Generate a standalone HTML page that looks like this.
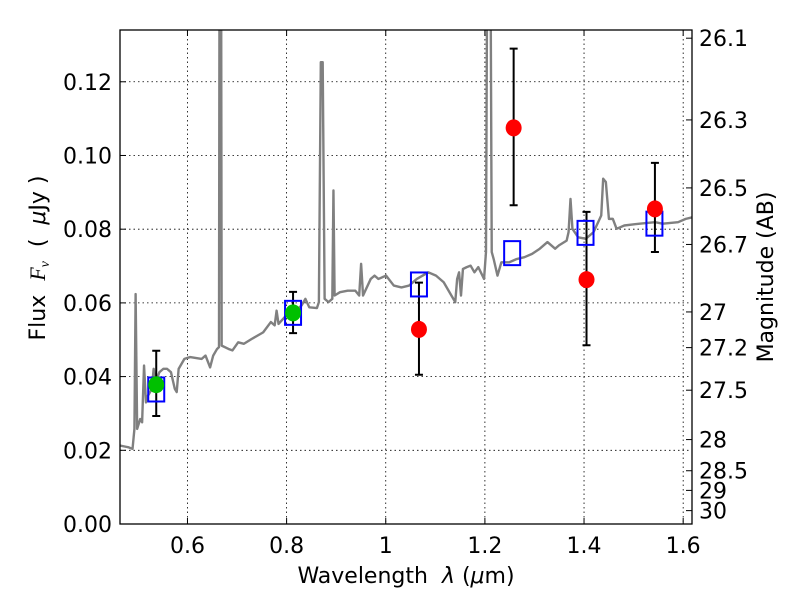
<!DOCTYPE html>
<html><head><meta charset="utf-8"><style>
html,body{margin:0;padding:0;background:#fff;}
svg text{font-family:"DejaVu Sans","Liberation Sans",sans-serif;fill:#000;}
</style></head><body>
<svg id="chart" width="800" height="600" viewBox="0 0 800 600" xmlns="http://www.w3.org/2000/svg">
<defs><clipPath id="clip"><rect x="120" y="30" width="572" height="494"/></clipPath></defs>
<rect x="0" y="0" width="800" height="600" fill="#fff"/>
<g id="grid"></g>
<g id="spec" clip-path="url(#clip)"></g>
<g id="marks"></g>
<rect x="120" y="30" width="572" height="494" fill="none" stroke="#000" stroke-width="1.3"/>
<g id="axes"></g>
<text x="406" y="583" font-size="22" text-anchor="middle" xml:space="preserve">Wavelength  <tspan font-style="italic">λ</tspan> (<tspan font-style="italic">μ</tspan>m)</text>
<text transform="translate(45,258) rotate(-90)" font-size="22" text-anchor="middle" xml:space="preserve">Flux  <tspan font-style="italic" font-family="Liberation Serif, serif">F<tspan font-size="14" dy="4">ν</tspan></tspan><tspan dy="-4">  (  <tspan font-style="italic">μ</tspan>Jy )</tspan></text>
<text transform="translate(773,277) rotate(-90)" font-size="22" text-anchor="middle">Magnitude (AB)</text>
</svg>
<script>
const specWave=[0.4636,0.4814,0.4892,0.4930,0.4954,0.4985,0.5047,0.5085,0.5124,0.5163,0.5202,0.5279,0.5318,0.5357,0.5434,0.5512,0.5589,0.5667,0.5744,0.5783,0.5822,0.5938,0.6054,0.6287,0.6364,0.6457,0.6519,0.6597,0.6636,0.6651,0.6674,0.6690,0.6829,0.6907,0.7023,0.7139,0.7294,0.7527,0.7682,0.7759,0.7798,0.7837,0.7992,0.8147,0.8302,0.8379,0.8457,0.8612,0.8651,0.8690,0.8728,0.8767,0.8845,0.8922,0.8945,0.8968,0.9077,0.9232,0.9387,0.9464,0.9503,0.9542,0.9697,0.9774,0.9852,1.0007,1.0162,1.0317,1.0472,1.0627,1.0859,1.1014,1.1169,1.1324,1.1402,1.1440,1.1479,1.1518,1.1557,1.1634,1.1712,1.1789,1.1867,1.1983,1.2022,1.2061,1.2099,1.2138,1.2177,1.2254,1.2332,1.2487,1.2642,1.2797,1.2952,1.3107,1.3262,1.3417,1.3494,1.3649,1.3688,1.3727,1.3766,1.3882,1.4037,1.4192,1.4347,1.4386,1.4440,1.4502,1.4580,1.4657,1.4812,1.5122,1.5432,1.5587,1.5897,1.6052,1.6207];
const specFlux=[0.0213,0.0208,0.0204,0.0258,0.0624,0.0258,0.0285,0.0276,0.0430,0.0330,0.0348,0.0366,0.0421,0.0384,0.0412,0.0421,0.0421,0.0412,0.0367,0.0358,0.0421,0.0448,0.0453,0.0448,0.0457,0.0425,0.0457,0.0475,0.0480,0.2,0.2,0.0484,0.0475,0.0471,0.0493,0.0489,0.0502,0.0520,0.0548,0.0539,0.0579,0.0543,0.0566,0.0575,0.0593,0.0611,0.0588,0.0586,0.0602,0.1253,0.1253,0.0611,0.0602,0.0611,0.0905,0.0620,0.0629,0.0633,0.0633,0.0620,0.0706,0.0620,0.0665,0.0674,0.0665,0.0674,0.0647,0.0642,0.0647,0.0665,0.0683,0.0674,0.0656,0.0620,0.0602,0.0665,0.0683,0.0620,0.0692,0.0697,0.0701,0.0683,0.0697,0.0665,0.0738,0.2,0.2,0.0738,0.0719,0.0674,0.0710,0.0710,0.0719,0.0724,0.0733,0.0747,0.0765,0.0747,0.0756,0.0769,0.0792,0.0882,0.0801,0.0778,0.0774,0.0792,0.0837,0.0937,0.0928,0.0828,0.0828,0.0801,0.0810,0.0815,0.0819,0.0815,0.0819,0.0828,0.0833];
const modelWave=[0.537,0.813,1.067,1.255,1.403,1.542];
const modelFlux=[0.0365,0.0573,0.0650,0.0735,0.0790,0.0815];
const obsWave=[0.537,0.813,1.067,1.258,1.405,1.543];
const obsFlux=[0.0378,0.0573,0.0528,0.1075,0.0663,0.0855];
const obsLo=[0.0293,0.0518,0.0405,0.0865,0.0485,0.0738];
const obsHi=[0.0470,0.0630,0.0655,0.1290,0.0847,0.0980];
const obsColor=['#00c000','#00c000','#ff0000','#ff0000','#ff0000','#ff0000'];
const xTicks=[0.6,0.8,1.0,1.2,1.4,1.6];
const xTickLabels=['0.6','0.8','1','1.2','1.4','1.6'];
const yTicks=[0,0.02,0.04,0.06,0.08,0.10,0.12];
const yTickLabels=['0.00','0.02','0.04','0.06','0.08','0.10','0.12'];
const magTicks=[26.1,26.3,26.5,26.7,27,27.2,27.5,28,28.5,29,30];
const magLabels=['26.1','26.3','26.5','26.7','27','27.2','27.5','28','28.5','29','30'];

const X0=120,X1=692,Y0=524,Y1=30,XMIN=0.4639,XMAX=1.6178,YMAX=0.13405;
const sx=v=>X0+(v-XMIN)/(XMAX-XMIN)*(X1-X0);
const sy=v=>Y0-v/YMAX*(Y0-Y1);
const NS='http://www.w3.org/2000/svg';
function mk(tag,parent,attrs){const e=document.createElementNS(NS,tag);for(const k in attrs)e.setAttribute(k,attrs[k]);parent.appendChild(e);return e;}
const grid=document.getElementById('grid'),spec=document.getElementById('spec'),marks=document.getElementById('marks'),axes=document.getElementById('axes');

xTicks.forEach((t,i)=>{const x=sx(t);
 const g=mk('line',grid,{x1:x,x2:x,y1:Y1,y2:Y0,stroke:'#000','stroke-width':0.8,'stroke-dasharray':'1.5,3'});
 
 mk('line',axes,{x1:x,x2:x,y1:Y0,y2:Y0-6,stroke:'#000'});mk('line',axes,{x1:x,x2:x,y1:Y1,y2:Y1+6,stroke:'#000'});
 const tx=mk('text',axes,{x:x,y:Y0+29,'font-size':22,'text-anchor':'middle'});tx.textContent=xTickLabels[i];
 });
yTicks.forEach((t,i)=>{const y=sy(t);
 if(t>0&&t<0.13){const g=mk('line',grid,{x1:X0,x2:X1,y1:y,y2:y,stroke:'#000','stroke-width':0.8,'stroke-dasharray':'1.5,3'});
 }
 mk('line',axes,{x1:X0,x2:X0+6,y1:y,y2:y,stroke:'#000'});
 const tx=mk('text',axes,{x:X0-8,y:y+8,'font-size':22,'text-anchor':'end'});tx.textContent=yTickLabels[i];
 });
magTicks.forEach((m,i)=>{const y=sy(Math.pow(10,(23.9-m)/2.5));
 mk('line',axes,{x1:X1,x2:X1-6,y1:y,y2:y,stroke:'#000'});
 const tx=mk('text',axes,{x:X1+7,y:y+8,'font-size':22,'text-anchor':'start'});tx.textContent=magLabels[i];
 });

const pl=mk('polyline',spec,{points:specWave.map((w,i)=>sx(w)+','+sy(specFlux[i])).join(' '),fill:'none',stroke:'#808080','stroke-width':2.4,'stroke-linejoin':'round'});



obsWave.forEach((w,i)=>{const x=sx(w);
 const eb=mk('path',marks,{d:`M${x},${sy(obsLo[i])}V${sy(obsHi[i])}M${x-4},${sy(obsLo[i])}H${x+4}M${x-4},${sy(obsHi[i])}H${x+4}`,stroke:'#000','stroke-width':2,fill:'none'});
 });
modelWave.forEach((w,i)=>{
 const r=mk('rect',marks,{x:sx(w)-8,y:sy(modelFlux[i])-12,width:16,height:24,fill:'none',stroke:'#0000ff','stroke-width':2});
 });
obsWave.forEach((w,i)=>{
 const c=mk('ellipse',marks,{cx:sx(w),cy:sy(obsFlux[i]),rx:8,ry:8.5,fill:obsColor[i]});
 });
</script>
</body></html>
